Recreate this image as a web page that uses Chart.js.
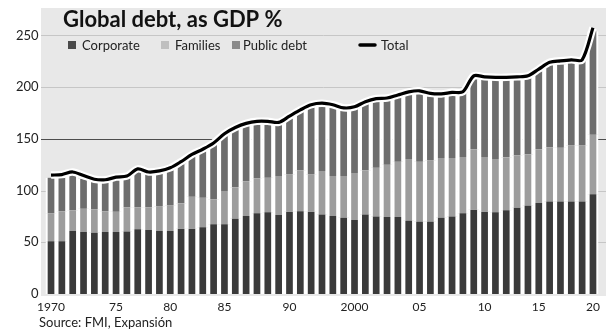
<!DOCTYPE html>
<html>
<head>
<meta charset="utf-8">
<script src="https://cdn.jsdelivr.net/npm/chart.js@4"></script>
<style>
  body { margin: 0; background: #fff; }
  #wrap { width: 606px; height: 333px; position: relative; }
</style>
</head>
<body>
<div id="wrap"><canvas id="grafico" width="606" height="333"></canvas></div>
<script>
// Dados (% do PIB)
const anos = ['1970','1971','1972','1973','1974','1975','1976','1977','1978','1979',
  '1980','1981','1982','1983','1984','1985','1986','1987','1988','1989',
  '1990','1991','1992','1993','1994','1995','1996','1997','1998','1999',
  '2000','2001','2002','2003','2004','2005','2006','2007','2008','2009',
  '2010','2011','2012','2013','2014','2015','2016','2017','2018','2019','2020'];

const corporate = [51, 51, 61, 60, 59.5, 60, 60, 60.5, 62.5, 62,
  61, 61, 63, 63, 64.5, 67.5, 67.5, 73, 75.5, 78,
  79, 76.5, 79.5, 80, 79.5, 77, 75.5, 74, 71.5, 77,
  75, 74.5, 74.5, 71, 70, 70, 74, 75, 78, 81.5,
  79.5, 79, 81, 83.5, 85.5, 88, 89.5, 89.5, 89.5, 89.5, 96.5];

const families = [27, 29, 20, 22.5, 22.5, 20, 19.5, 23.5, 21.5, 22,
  23.5, 24.5, 24.5, 31, 28.5, 24, 32, 30, 33.5, 34,
  33.5, 37.5, 36, 39.5, 36, 42, 38.5, 40, 45.5, 42.5,
  47, 50.5, 53.5, 59.5, 58, 59, 57.5, 56.5, 54.5, 58.5,
  53, 51.5, 51, 50.5, 49.5, 52, 52.5, 52, 54, 54, 57.5];

const publicDebt = [34.5, 34, 34, 29, 27.5, 30.5, 32.5, 29, 34, 32,
  33.5, 34.5, 38, 39, 46, 53.5, 53, 57, 53.5, 52,
  52, 51, 58, 60, 66.5, 63.5, 66.5, 64, 62.5, 67,
  65.5, 62.5, 62.5, 63.5, 66.5, 63, 59, 60.5, 62, 67.5,
  75.5, 78, 76.5, 75.5, 76, 77, 80, 80.5, 80, 82.5, 100];

const total = [115, 115.5, 118, 114.5, 111, 110.5, 113, 114, 121, 118,
  119, 122, 128, 135, 140, 146, 155, 161, 165, 167,
  167, 166, 172, 178, 183, 184.5, 183, 180, 181, 186,
  189, 189.5, 192.5, 195.5, 196.5, 194, 193.5, 195, 195.5, 211,
  210, 209.5, 209.5, 210, 211, 217.5, 224, 225.5, 226.5, 226.5, 257.5];

// Rótulos do eixo x (como no original, sem "95")
const rotulosX = ['1970', '75', '80', '85', '90', '2000', '05', '10', '15', '20'];
const posRotulos = [0, 6, 11, 16, 22, 28, 34, 40, 45, 50];
const ticksY = [0, 50, 100, 150, 200, 250];

const fonte = 'Lato, "Open Sans", sans-serif';

// Fundo cinza, grelha, título, legenda e fonte
const decoracao = {
  id: 'decoracao',
  beforeDraw(chart) {
    const c = chart.ctx;
    c.save();
    c.fillStyle = '#e8e8e8';
    c.fillRect(41, 8, 565, 288);
    c.restore();
  },
  beforeDatasetsDraw(chart) {
    const c = chart.ctx;
    const y = chart.scales.y;
    c.save();
    ticksY.forEach(v => {
      if (v === 0) return;
      const py = Math.round(y.getPixelForValue(v)) + 0.5;
      c.strokeStyle = v === 150 ? '#4d4d4d' : '#c6c6c6';
      c.lineWidth = 1;
      c.beginPath();
      c.moveTo(41, py);
      c.lineTo(606, py);
      c.stroke();
    });
    c.restore();
  },
  afterDraw(chart) {
    const c = chart.ctx;
    c.save();
    c.fillStyle = '#111';
    c.textBaseline = 'middle';
    c.font = 'bold 22px ' + fonte;
    c.fillText('Global debt, as GDP %', 63, 20);

    c.font = '13px ' + fonte;
    c.fillStyle = '#4a4a4a'; c.fillRect(68, 41, 8, 8);
    c.fillStyle = '#222'; c.fillText('Corporate', 82, 46);
    c.fillStyle = '#bfbfbf'; c.fillRect(161, 41, 8, 8);
    c.fillStyle = '#222'; c.fillText('Families', 175, 46);
    c.fillStyle = '#8a8a8a'; c.fillRect(232, 41, 8, 8);
    c.fillStyle = '#222'; c.fillText('Public debt', 243, 46);
    c.strokeStyle = '#000'; c.lineWidth = 3.5; c.lineCap = 'round';
    c.beginPath(); c.moveTo(360, 45); c.lineTo(375, 45); c.stroke();
    c.fillText('Total', 381, 46);

    c.fillText('Source: FMI, Expansión', 39, 323);
    c.restore();
  }
};

const bordaBranca = { left: 2.4, right: 2.4, top: 0, bottom: 0 };

new Chart(document.getElementById('grafico'), {
  type: 'bar',
  data: {
    labels: anos,
    datasets: [
      { type: 'line', label: 'Total', data: total, stack: 'linha',
        borderColor: '#000', borderWidth: 3.2, pointRadius: 0, tension: 0.3, fill: false },
      { type: 'line', label: 'halo', data: total, stack: 'halo',
        borderColor: '#fff', borderWidth: 7.5, pointRadius: 0, tension: 0.3, fill: false },
      { label: 'Corporate', data: corporate, stack: 'barras', backgroundColor: '#3a3a3a',
        borderColor: '#fff', borderWidth: bordaBranca, borderSkipped: false },
      { label: 'Families', data: families, stack: 'barras', backgroundColor: '#9d9d9d',
        borderColor: '#fff', borderWidth: bordaBranca, borderSkipped: false },
      { label: 'Public debt', data: publicDebt, stack: 'barras', backgroundColor: '#6d6d6d',
        borderColor: '#fff', borderWidth: bordaBranca, borderSkipped: false }
    ]
  },
  options: {
    responsive: false,
    animation: false,
    layout: { padding: { top: 6, right: 6, left: 0, bottom: 0 } },
    datasets: { bar: { barPercentage: 1, categoryPercentage: 1 } },
    plugins: { legend: { display: false }, tooltip: { enabled: false } },
    scales: {
      x: {
        stacked: true,
        grid: { display: false, drawTicks: false },
        border: { display: false },
        ticks: {
          autoSkip: false, maxRotation: 0, minRotation: 0, padding: 6,
          color: '#222', font: { family: fonte, size: 12 },
          callback: (v, i) => { const k = posRotulos.indexOf(i); return k >= 0 ? rotulosX[k] : ''; }
        },
        afterFit: s => { s.height = 39; }
      },
      y: {
        stacked: true,
        min: 0, max: 270,
        grid: { display: false, drawTicks: false },
        border: { display: false },
        afterBuildTicks: s => { s.ticks = ticksY.map(v => ({ value: v })); },
        ticks: { padding: 7, color: '#222', font: { family: fonte, size: 13 } },
        afterFit: s => { s.width = 45.6; }
      }
    }
  },
  plugins: [decoracao]
});
</script>
</body>
</html>
